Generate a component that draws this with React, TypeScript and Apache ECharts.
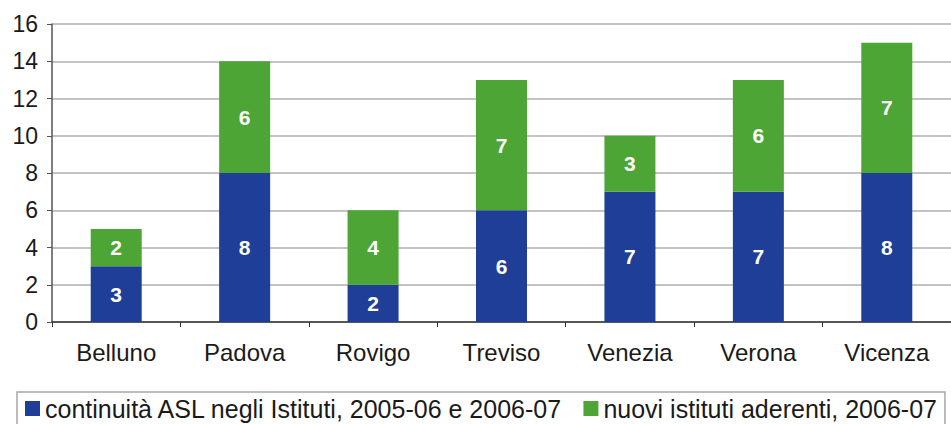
import React, { useEffect, useRef } from "react";
import * as echarts from "echarts";

const categories = ["Belluno", "Padova", "Rovigo", "Treviso", "Venezia", "Verona", "Vicenza"];
const continuita = [3, 8, 2, 6, 7, 7, 8];
const nuovi = [2, 6, 4, 7, 3, 6, 7];
const seriesNames = [
  "continuità ASL negli Istituti, 2005-06 e 2006-07",
  "nuovi istituti aderenti, 2006-07",
];

export default function App() {
  const ref = useRef<HTMLDivElement>(null);
  useEffect(() => {
    if (!ref.current) return;
    const chart = echarts.init(ref.current, undefined, { renderer: "svg" });
    const font = "'Liberation Sans', Arial, sans-serif";
    const labelStyle = {
      show: true,
      position: "inside" as const,
      color: "#ffffff",
      fontWeight: "bold" as const,
      fontSize: 21,
      fontFamily: font,
    };
    chart.setOption({
      animation: false,
      backgroundColor: "#ffffff",
      grid: { left: 52, top: 24, width: 903, height: 298 },
      legend: {
        left: 17,
        top: 392,
        padding: [4, 8, 10, 8],
        borderColor: "#a8a8a8",
        borderWidth: 1.5,
        itemGap: 20,
        itemWidth: 15,
        itemHeight: 15,
        icon: "rect",
        textStyle: { fontSize: 25, fontFamily: font, color: "#1a1a1a" },
        data: seriesNames,
      },
      xAxis: {
        type: "category",
        data: categories,
        axisLine: { lineStyle: { color: "#333", width: 1.5 } },
        axisTick: { show: true, length: 5, lineStyle: { color: "#333" } },
        axisLabel: { margin: 18, fontSize: 24, fontFamily: font, color: "#1a1a1a" },
      },
      yAxis: {
        type: "value",
        min: 0,
        max: 16,
        interval: 2,
        axisLine: { show: true, lineStyle: { color: "#555", width: 1.5 } },
        axisTick: { show: true, length: 5, lineStyle: { color: "#555" } },
        axisLabel: { margin: 14, fontSize: 23, fontFamily: font, color: "#1a1a1a" },
        splitLine: { lineStyle: { color: "#b0b0b0", width: 1.5 } },
      },
      series: [
        {
          name: seriesNames[0],
          type: "bar",
          stack: "tot",
          barWidth: 51,
          data: continuita,
          itemStyle: { color: "#1F3E97" },
          label: labelStyle,
        },
        {
          name: seriesNames[1],
          type: "bar",
          stack: "tot",
          barWidth: 51,
          data: nuovi,
          itemStyle: { color: "#4DA536" },
          label: labelStyle,
        },
      ],
    });
    return () => chart.dispose();
  }, []);
  return (
    <div
      ref={ref}
      style={{ position: "fixed", left: 0, top: 0, width: 951, height: 424 }}
    />
  );
}
